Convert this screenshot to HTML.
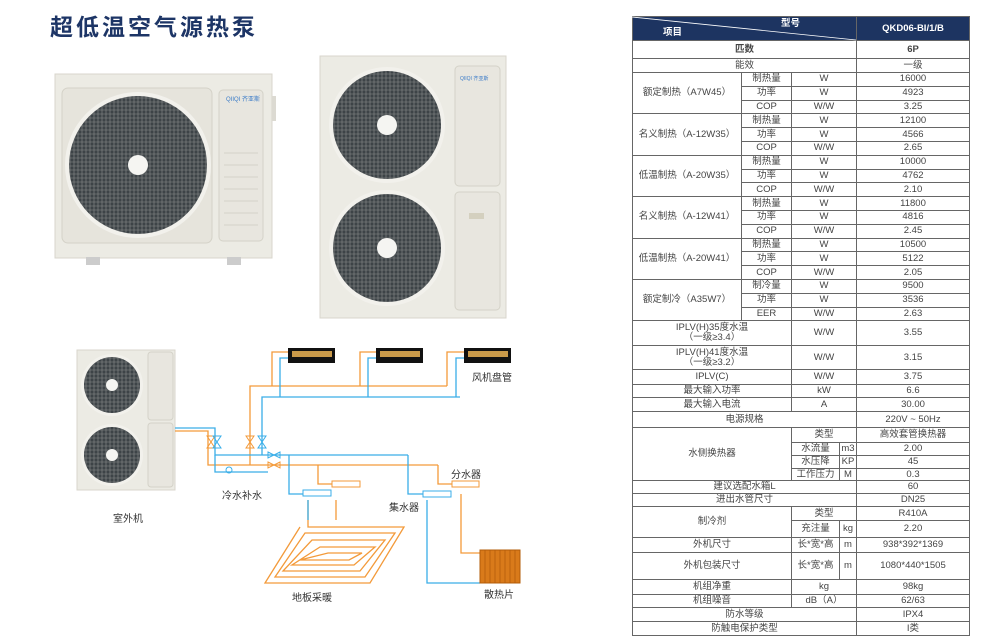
<!DOCTYPE html>
<html><head><meta charset="utf-8"><style>
body{margin:0;width:1000px;height:640px;background:#fff;position:relative;overflow:hidden;font-family:"Liberation Sans","Noto Sans CJK SC",sans-serif;}
.title{position:absolute;left:50px;top:8px;font-size:23px;font-weight:bold;color:#1d3566;letter-spacing:3px;}
table{position:absolute;left:632px;top:16px;border-collapse:collapse;table-layout:fixed;font-size:9.5px;color:#444;width:337px;}
td{border:1px solid #666;text-align:center;padding:0;line-height:10px;overflow:hidden;white-space:nowrap;}
.hd td{background:#1d3461;color:#fff;font-weight:bold;}
.r td{height:12.8px;}
</style></head><body>
<div class="title">超低温空气源热泵</div>

<svg width="620" height="640" style="position:absolute;left:0;top:0">
<defs>
<pattern id="grill" width="4" height="4" patternUnits="userSpaceOnUse"><rect width="4" height="4" fill="#3d4347"/><path d="M0 2H4M2 0V4" stroke="#8a8d8c" stroke-width="0.6"/></pattern>
</defs>
<!-- left unit -->
<rect x="55" y="74" width="217" height="184" fill="#ecebe4" stroke="#d8d6cc"/>
<rect x="62" y="88" width="150" height="155" rx="6" fill="#e6e4dc" stroke="#d4d2c8"/>
<rect x="219" y="90" width="44" height="151" rx="4" fill="#e8e6df" stroke="#d4d2c8"/>
<g stroke="#d4d2c8"><path d="M224 153H258M224 165H258M224 177H258M224 189H258M224 201H258M224 213H258M224 225H258"/></g>
<rect x="272" y="96" width="4" height="25" fill="#dcdad2"/>
<circle cx="138" cy="165" r="73" fill="#f2f1ec"/>
<circle cx="138" cy="165" r="69" fill="url(#grill)"/>
<circle cx="138" cy="165" r="10" fill="#f5f5f2"/>
<text x="226" y="101" font-size="6" fill="#3a7bc8">QIIQI 齐亚斯</text>
<rect x="86" y="257" width="14" height="8" fill="#ccc"/><rect x="227" y="257" width="14" height="8" fill="#ccc"/>
<!-- right unit -->
<rect x="320" y="56" width="186" height="262" fill="#ecebe4" stroke="#d8d6cc"/>
<rect x="455" y="66" width="45" height="120" rx="4" fill="#e8e6df" stroke="#d4d2c8"/>
<rect x="455" y="192" width="45" height="118" rx="4" fill="#e8e6df" stroke="#d4d2c8"/>
<rect x="469" y="213" width="15" height="6" fill="#d4d0bf"/>
<text x="460" y="80" font-size="5" fill="#3a7bc8">QIIQI 齐亚斯</text>
<circle cx="387" cy="125" r="58" fill="#f2f1ec"/><circle cx="387" cy="125" r="54" fill="url(#grill)"/><circle cx="387" cy="125" r="10" fill="#f5f5f2"/>
<circle cx="387" cy="248" r="58" fill="#f2f1ec"/><circle cx="387" cy="248" r="54" fill="url(#grill)"/><circle cx="387" cy="248" r="10" fill="#f5f5f2"/>
<!-- schematic unit -->
<rect x="77" y="350" width="98" height="140" fill="#ecebe4" stroke="#d8d6cc"/>
<rect x="148" y="352" width="25" height="68" rx="3" fill="#e8e6df" stroke="#d4d2c8"/>
<rect x="148" y="423" width="25" height="64" rx="3" fill="#e8e6df" stroke="#d4d2c8"/>
<circle cx="112" cy="385" r="31" fill="#f2f1ec"/><circle cx="112" cy="385" r="28" fill="url(#grill)"/><circle cx="112" cy="385" r="6" fill="#f5f5f2"/>
<circle cx="112" cy="455" r="31" fill="#f2f1ec"/><circle cx="112" cy="455" r="28" fill="url(#grill)"/><circle cx="112" cy="455" r="6" fill="#f5f5f2"/>
<!-- fan coils -->
<g fill="#111"><rect x="288" y="348" width="47" height="15"/><rect x="376" y="348" width="47" height="15"/><rect x="464" y="348" width="47" height="15"/></g>
<g fill="#c99a4a"><rect x="292" y="351" width="40" height="6"/><rect x="380" y="351" width="40" height="6"/><rect x="468" y="351" width="40" height="6"/></g>
<!-- orange pipes -->
<g fill="none" stroke="#f39a3a" stroke-width="1.3">
<path d="M175 431H208V465H438"/>
<path d="M250 465V386H447M272 386V352H288M360 386V352H376M447 386V352H464"/>
<path d="M318 465V484H360M438 465V484H478"/>
<path d="M308 500V527H404L370 583H265L300 527M336 500V520"/>
<path d="M305 533H395L365 577H275Z M312 540H385L360 571H283Z M320 547H375L354 565H292Z M328 553H362L349 560H300Z"/>
<path d="M461 494V553H480"/>
</g>
<!-- blue pipes -->
<g fill="none" stroke="#3aaee8" stroke-width="1.3">
<path d="M175 428H215V455H408"/>
<path d="M262 455V397H460M280 397V358H288M368 397V358H376M456 397V358H464"/>
<path d="M215 455V472H268M289 455V494H330M408 455V494H450"/>
<path d="M308 500V520M427 500V583H480"/>
</g>
<rect x="303" y="490" width="28" height="6" fill="#fff" stroke="#3aaee8"/>
<rect x="332" y="481" width="28" height="6" fill="#fff" stroke="#f39a3a"/>
<rect x="423" y="491" width="28" height="6" fill="#fff" stroke="#3aaee8"/>
<rect x="452" y="481" width="27" height="6" fill="#fff" stroke="#f39a3a"/>
<g fill="none" stroke-width="1"><path d="M207 436l4 6l-4 6h8l-4-6l4-6z" stroke="#f39a3a"/><path d="M213 436l4 6l-4 6h8l-4-6l4-6z" stroke="#3aaee8"/>
<path d="M246 436l4 6l-4 6h8l-4-6l4-6z" stroke="#f39a3a"/><path d="M258 436l4 6l-4 6h8l-4-6l4-6z" stroke="#3aaee8"/>
<path d="M268 452l6 3l-6 3zM280 452l-6 3l6 3z" stroke="#3aaee8"/><path d="M268 462l6 3l-6 3zM280 462l-6 3l6 3z" stroke="#f39a3a"/>
<circle cx="229" cy="470" r="3" stroke="#3aaee8"/></g>
<rect x="480" y="550" width="40" height="33" fill="#d97a1a" stroke="#b35c0a"/>
<g stroke="#b35c0a" stroke-width="0.8"><path d="M485 550V583M490 550V583M495 550V583M500 550V583M505 550V583M510 550V583M515 550V583"/></g>
<g font-size="10" fill="#333" font-family="Liberation Sans,Noto Sans CJK SC,sans-serif">
<text x="113" y="522">室外机</text><text x="222" y="499">冷水补水</text><text x="472" y="381">风机盘管</text>
<text x="451" y="478">分水器</text><text x="389" y="511">集水器</text><text x="292" y="601">地板采暖</text><text x="484" y="598">散热片</text>
</g>
</svg>

<table>
<colgroup><col style="width:109px"><col style="width:50px"><col style="width:48px"><col style="width:17px"><col style="width:113px"></colgroup>
<tr class="hd"><td colspan="4" style="height:23px;position:relative;text-align:left"><span style="position:absolute;left:30px;top:11px">项目</span><span style="position:absolute;left:148px;top:2px">型号</span></td><td>QKD06-BI/1/B</td></tr>
<tr><td colspan="4" style="height:17px;font-weight:bold">匹数</td><td style="font-weight:bold">6P</td></tr>
<tr><td colspan="4" style="height:13px">能效</td><td>一级</td></tr>
<tr class="r"><td rowspan="3">额定制热（A7W45）</td><td>制热量</td><td colspan="2">W</td><td>16000</td></tr>
<tr class="r"><td>功率</td><td colspan="2">W</td><td>4923</td></tr>
<tr class="r"><td>COP</td><td colspan="2">W/W</td><td>3.25</td></tr>
<tr class="r"><td rowspan="3">名义制热（A-12W35）</td><td>制热量</td><td colspan="2">W</td><td>12100</td></tr>
<tr class="r"><td>功率</td><td colspan="2">W</td><td>4566</td></tr>
<tr class="r"><td>COP</td><td colspan="2">W/W</td><td>2.65</td></tr>
<tr class="r"><td rowspan="3">低温制热（A-20W35）</td><td>制热量</td><td colspan="2">W</td><td>10000</td></tr>
<tr class="r"><td>功率</td><td colspan="2">W</td><td>4762</td></tr>
<tr class="r"><td>COP</td><td colspan="2">W/W</td><td>2.10</td></tr>
<tr class="r"><td rowspan="3">名义制热（A-12W41）</td><td>制热量</td><td colspan="2">W</td><td>11800</td></tr>
<tr class="r"><td>功率</td><td colspan="2">W</td><td>4816</td></tr>
<tr class="r"><td>COP</td><td colspan="2">W/W</td><td>2.45</td></tr>
<tr class="r"><td rowspan="3">低温制热（A-20W41）</td><td>制热量</td><td colspan="2">W</td><td>10500</td></tr>
<tr class="r"><td>功率</td><td colspan="2">W</td><td>5122</td></tr>
<tr class="r"><td>COP</td><td colspan="2">W/W</td><td>2.05</td></tr>
<tr class="r"><td rowspan="3">额定制冷（A35W7）</td><td>制冷量</td><td colspan="2">W</td><td>9500</td></tr>
<tr class="r"><td>功率</td><td colspan="2">W</td><td>3536</td></tr>
<tr class="r"><td>EER</td><td colspan="2">W/W</td><td>2.63</td></tr>
<tr><td colspan="2" style="height:24px">IPLV(H)35度水温<br>（一级≥3.4）</td><td colspan="2">W/W</td><td>3.55</td></tr>
<tr><td colspan="2" style="height:23px">IPLV(H)41度水温<br>（一级≥3.2）</td><td colspan="2">W/W</td><td>3.15</td></tr>
<tr><td colspan="2" style="height:14px">IPLV(C)</td><td colspan="2">W/W</td><td>3.75</td></tr>
<tr><td colspan="2" style="height:12px">最大输入功率</td><td colspan="2">kW</td><td>6.6</td></tr>
<tr><td colspan="2" style="height:13px">最大输入电流</td><td colspan="2">A</td><td>30.00</td></tr>
<tr><td colspan="4" style="height:15px">电源规格</td><td>220V ~ 50Hz</td></tr>
<tr><td colspan="2" rowspan="4">水侧换热器</td><td colspan="2" style="height:14px">类型</td><td>高效套管换热器</td></tr>
<tr><td style="height:12px">水流量</td><td>m3</td><td>2.00</td></tr>
<tr><td style="height:12px">水压降</td><td>KP</td><td>45</td></tr>
<tr><td style="height:11px">工作压力</td><td>M</td><td>0.3</td></tr>
<tr><td colspan="4" style="height:12px">建议选配水箱L</td><td>60</td></tr>
<tr><td colspan="4" style="height:12px">进出水管尺寸</td><td>DN25</td></tr>
<tr><td colspan="2" rowspan="2">制冷剂</td><td colspan="2" style="height:13px">类型</td><td>R410A</td></tr>
<tr><td style="height:16px">充注量</td><td>kg</td><td>2.20</td></tr>
<tr><td colspan="2" style="height:14px">外机尺寸</td><td>长*宽*高</td><td>m</td><td>938*392*1369</td></tr>
<tr><td colspan="2" style="height:26px">外机包装尺寸</td><td>长*宽*高</td><td>m</td><td>1080*440*1505</td></tr>
<tr><td colspan="2" style="height:14px">机组净重</td><td colspan="2">kg</td><td>98kg</td></tr>
<tr><td colspan="2" style="height:12px">机组噪音</td><td colspan="2">dB（A）</td><td>62/63</td></tr>
<tr><td colspan="4" style="height:13px">防水等级</td><td>IPX4</td></tr>
<tr><td colspan="4" style="height:13px">防触电保护类型</td><td>I类</td></tr>
</table>
<svg width="225" height="25" style="position:absolute;left:632px;top:16px"><line x1="0" y1="1" x2="224" y2="24" stroke="#fff" stroke-width="0.8"/></svg>
</body></html>
